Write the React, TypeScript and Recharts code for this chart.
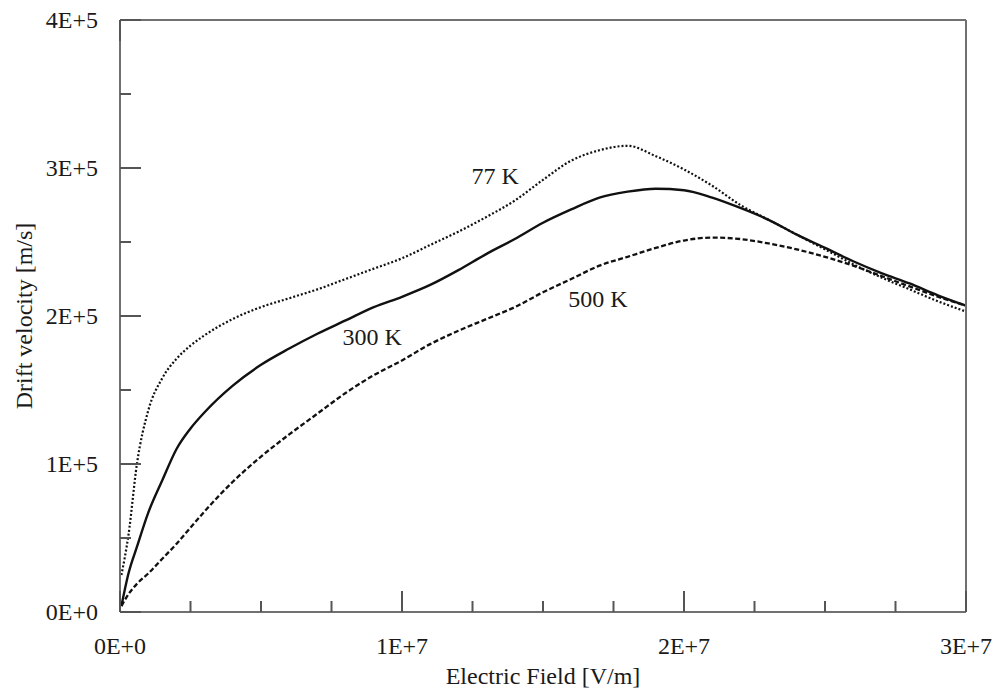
import { LineChart, Line, XAxis, YAxis, ReferenceDot } from "recharts";

// electric field [V/m]
const FIELD = [
  5e4, 3e5, 6e5, 1e6, 1.5e6, 2e6, 2.5e6, 3e6, 4e6, 5e6, 6e6, 7e6, 8e6, 9e6,
  1e7, 1.1e7, 1.2e7, 1.3e7, 1.4e7, 1.5e7, 1.6e7, 1.7e7, 1.8e7, 1.9e7, 2e7,
  2.1e7, 2.2e7, 2.3e7, 2.4e7, 2.5e7, 2.6e7, 2.7e7, 2.8e7, 2.9e7, 3e7,
];

// drift velocity [m/s]
const V_77K = [
  0.25e5, 0.52e5, 1.0e5, 1.36e5, 1.58e5, 1.71e5, 1.8e5, 1.87e5, 1.98e5, 2.06e5,
  2.12e5, 2.18e5, 2.25e5, 2.32e5, 2.39e5, 2.48e5, 2.57e5, 2.67e5, 2.78e5,
  2.92e5, 3.05e5, 3.12e5, 3.15e5, 3.08e5, 2.99e5, 2.88e5, 2.75e5, 2.65e5,
  2.55e5, 2.45e5, 2.35e5, 2.26e5, 2.18e5, 2.1e5, 2.03e5,
];
const V_300K = [
  0.04e5, 0.26e5, 0.44e5, 0.67e5, 0.89e5, 1.1e5, 1.24e5, 1.35e5, 1.53e5,
  1.67e5, 1.78e5, 1.88e5, 1.97e5, 2.06e5, 2.13e5, 2.21e5, 2.31e5, 2.42e5,
  2.52e5, 2.63e5, 2.72e5, 2.8e5, 2.84e5, 2.86e5, 2.85e5, 2.8e5, 2.73e5,
  2.65e5, 2.55e5, 2.46e5, 2.37e5, 2.29e5, 2.22e5, 2.14e5, 2.07e5,
];
const V_500K = [
  0.04e5, 0.12e5, 0.19e5, 0.26e5, 0.36e5, 0.46e5, 0.57e5, 0.68e5, 0.88e5,
  1.05e5, 1.2e5, 1.34e5, 1.48e5, 1.6e5, 1.7e5, 1.81e5, 1.9e5, 1.98e5, 2.06e5,
  2.16e5, 2.25e5, 2.34e5, 2.4e5, 2.46e5, 2.51e5, 2.53e5, 2.52e5, 2.49e5,
  2.45e5, 2.4e5, 2.34e5, 2.27e5, 2.2e5, 2.13e5, 2.07e5,
];

const X_TICKS = [
  0, 2.5e6, 5e6, 7.5e6, 1e7, 1.25e7, 1.5e7, 1.75e7, 2e7, 2.25e7, 2.5e7,
  2.75e7, 3e7,
];
const Y_TICKS = [0, 5e4, 1e5, 1.5e5, 2e5, 2.5e5, 3e5, 3.5e5, 4e5];
const X_MAJOR = 1e7;
const Y_MAJOR = 1e5;

const LABEL_TEXT = ["77 K", "300 K", "500 K"];
const LABEL_FIELD = [1.33e7, 0.894e7, 1.695e7];
const LABEL_VELOCITY = [2.95e5, 1.86e5, 2.12e5];

const FONT = '"Liberation Serif", "Times New Roman", serif';
const AXIS_COLOR = "#707070";
const TICK_COLOR = "#555";
const TEXT_COLOR = "#1a1a1a";
const INK = "#111";

const chartData = FIELD.map((f, i) => ({
  field: f,
  v77: V_77K[i],
  v300: V_300K[i],
  v500: V_500K[i],
}));

function sci(v: number) {
  if (v === 0) return "0E+0";
  const exp = Math.floor(Math.log10(v));
  const mant = Math.round(v / Math.pow(10, exp));
  return `${mant}E+${exp}`;
}

function BottomTick({ x, y, payload }: any) {
  const major = payload.value % X_MAJOR === 0;
  return (
    <g>
      <line x1={x} x2={x} y1={y} y2={y - (major ? 21 : 11)} stroke={TICK_COLOR} strokeWidth={2} />
      {major && (
        <text x={x} y={y + 34} dy="0.35em" textAnchor="middle" fontSize={24} fontFamily={FONT} fill={TEXT_COLOR}>
          {sci(payload.value)}
        </text>
      )}
    </g>
  );
}

function TopTick({ x, y, payload }: any) {
  const major = payload.value % X_MAJOR === 0;
  return <line x1={x} x2={x} y1={y} y2={y + (major ? 21 : 11)} stroke={TICK_COLOR} strokeWidth={2} />;
}

function LeftTick({ x, y, payload }: any) {
  const major = payload.value % Y_MAJOR === 0;
  return (
    <g>
      <line x1={x} x2={x + (major ? 21 : 11)} y1={y} y2={y} stroke={TICK_COLOR} strokeWidth={2} />
      {major && (
        <text x={x - 22} y={y} dy="0.35em" textAnchor="end" fontSize={24} fontFamily={FONT} fill={TEXT_COLOR}>
          {sci(payload.value)}
        </text>
      )}
    </g>
  );
}

function RightTick({ x, y, payload }: any) {
  const major = payload.value % Y_MAJOR === 0;
  return <line x1={x} x2={x - (major ? 21 : 11)} y1={y} y2={y} stroke={TICK_COLOR} strokeWidth={2} />;
}

function YTitle({ viewBox }: any) {
  const cx = 32;
  const cy = viewBox.y + viewBox.height / 2;
  return (
    <text x={cx} y={cy} transform={`rotate(-90 ${cx} ${cy})`} textAnchor="middle" fontSize={24} fontFamily={FONT} fill={TEXT_COLOR}>
      Drift velocity [m/s]
    </text>
  );
}

function XTitle({ viewBox }: any) {
  const cx = viewBox.x + viewBox.width / 2;
  return (
    <text x={cx} y={684} textAnchor="middle" fontSize={24} fontFamily={FONT} fill={TEXT_COLOR}>
      Electric Field [V/m]
    </text>
  );
}

const axisLine = { stroke: AXIS_COLOR, strokeWidth: 2 };

export default function App() {
  return (
    <div style={{ position: "absolute", left: 0, top: 0, width: 996, height: 691, background: "#fff" }}>
      <LineChart width={996} height={691} data={chartData} margin={{ top: 0, right: 0, bottom: 0, left: 0 }}>
        <XAxis
          xAxisId="x"
          dataKey="field"
          type="number"
          domain={[0, 3e7]}
          ticks={X_TICKS}
          interval={0}
          height={79}
          tickSize={0}
          tickMargin={0}
          tickLine={false}
          axisLine={axisLine}
          tick={(p: any) => <BottomTick {...p} />}
          label={<XTitle />}
        />
        <XAxis
          xAxisId="xt"
          orientation="top"
          type="number"
          domain={[0, 3e7]}
          ticks={X_TICKS}
          interval={0}
          height={20}
          tickSize={0}
          tickMargin={0}
          tickLine={false}
          axisLine={axisLine}
          tick={(p: any) => <TopTick {...p} />}
        />
        <YAxis
          yAxisId="y"
          type="number"
          domain={[0, 4e5]}
          ticks={Y_TICKS}
          interval={0}
          width={120}
          tickSize={0}
          tickMargin={0}
          tickLine={false}
          axisLine={axisLine}
          tick={(p: any) => <LeftTick {...p} />}
          label={<YTitle />}
        />
        <YAxis
          yAxisId="yr"
          orientation="right"
          type="number"
          domain={[0, 4e5]}
          ticks={Y_TICKS}
          interval={0}
          width={30}
          tickSize={0}
          tickMargin={0}
          tickLine={false}
          axisLine={axisLine}
          tick={(p: any) => <RightTick {...p} />}
        />
        <Line
          xAxisId="x"
          yAxisId="y"
          dataKey="v77"
          type="monotone"
          stroke={INK}
          strokeWidth={2.2}
          strokeDasharray="2 2"
          dot={false}
          isAnimationActive={false}
        />
        <Line
          xAxisId="x"
          yAxisId="y"
          dataKey="v300"
          type="monotone"
          stroke={INK}
          strokeWidth={2.4}
          dot={false}
          isAnimationActive={false}
        />
        <Line
          xAxisId="x"
          yAxisId="y"
          dataKey="v500"
          type="monotone"
          stroke={INK}
          strokeWidth={2.3}
          strokeDasharray="5 2.5"
          dot={false}
          isAnimationActive={false}
        />
        {LABEL_TEXT.map((t, i) => (
          <ReferenceDot
            key={t}
            xAxisId="x"
            yAxisId="y"
            x={LABEL_FIELD[i]}
            y={LABEL_VELOCITY[i]}
            r={1}
            fill="none"
            stroke="none"
            label={{ value: t, position: "center", fontSize: 24, fontFamily: FONT, fill: TEXT_COLOR }}
          />
        ))}
      </LineChart>
    </div>
  );
}
